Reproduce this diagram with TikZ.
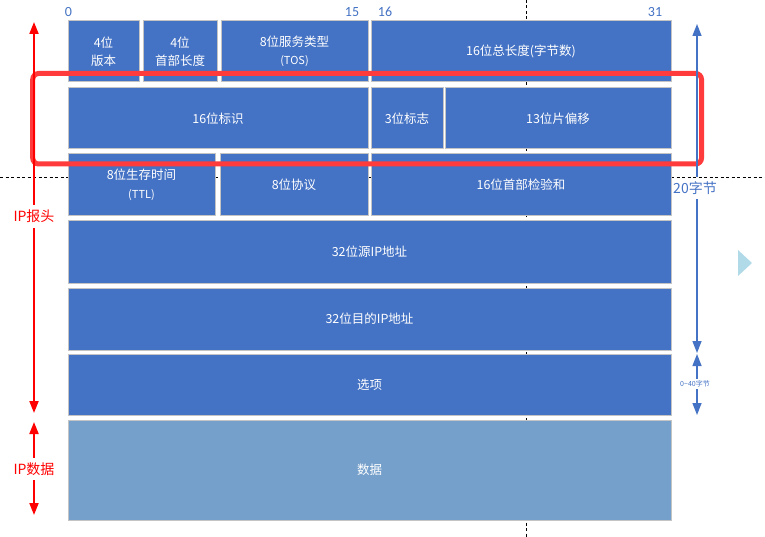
\documentclass[tikz,border=0pt]{standalone}
\usepackage{fontspec}
\newfontfamily\cjk{Noto Sans CJK SC}
\newfontfamily\numfont{Carlito}
\usetikzlibrary{arrows.meta}
\definecolor{boxblue}{HTML}{4472C4}
\definecolor{datablue}{HTML}{75A0CB}
\definecolor{boxedge}{HTML}{C4C4C4}
\definecolor{hlred}{HTML}{FF3B3B}
\definecolor{numblue}{HTML}{4472C4}
\definecolor{navblue}{HTML}{B0DAE8}
\tikzset{
  field/.style={draw=boxedge, line width=1pt, fill=boxblue, text=white, align=center,
    inner sep=0pt, font=\cjk\fontsize{12.5}{18.5}\selectfont},
  datafield/.style={field, fill=datablue},
  bitnum/.style={text=numblue, font=\numfont\fontsize{14}{14}\selectfont, inner sep=0pt},
  redlbl/.style={text=red, font=\cjk\fontsize{14}{14}\selectfont, inner sep=0pt},
  bluelbl/.style={text=numblue, font=\cjk\fontsize{14}{14}\selectfont, inner sep=0pt},
  tinylbl/.style={text=numblue, font=\cjk\fontsize{7}{7}\selectfont, inner sep=0pt},
  redarrow/.style={draw=red, line width=2pt, -{Triangle[length=12pt,width=9pt]}},
  bluearrow/.style={draw=numblue, line width=1.4pt, -{Triangle[length=12pt,width=9pt]}},
  guide/.style={draw=black, line width=0.8pt, dash pattern=on 3pt off 2.5pt},
  highlight/.style={draw=hlred, line width=5pt, rounded corners=6pt, inner sep=0pt},
}
\newcommand\fld[7][field]{%
  \node[#1, minimum width={#5-#3}, minimum height={#6-#4}] (#2) at ({(#3+#5)/2},{(#4+#6)/2}) {#7};}
\begin{document}
\begin{tikzpicture}[x=1pt,y=-1pt]
\useasboundingbox (0,0) rectangle (765,537);
% guide lines
\coordinate (vtop) at (526,0);
\coordinate (vbot) at (526,537);
\coordinate (hleft) at (0,177);
\coordinate (hright) at (765,177);
\draw[guide] (vtop) -- (vbot);
\draw[guide] (hleft) -- (hright);
% bit numbers
\node[bitnum] (b0) at (68.5,12) {0};
\node[bitnum] (b15) at (352,12) {15};
\node[bitnum] (b16) at (385,12) {16};
\node[bitnum] (b31) at (655,12) {31};
% row 1
\fld{ver}{68}{21}{139}{82}{4位\\版本}
\fld{hlen}{143}{21}{217}{82}{4位\\首部长度}
\fld{tos}{221}{21}{368}{82}{8位服务类型\\{\fontsize{11}{14}\selectfont (TOS)}}
\fld{tlen}{371}{21}{671}{82}{16位总长度(字节数)}
% row 2
\fld{ident}{68}{88}{368}{149}{16位标识}
\fld{flags}{371}{88}{443}{149}{3位标志}
\fld{frag}{445}{88}{671}{149}{13位片偏移}
% row 3
\fld{ttl}{68}{154}{215}{216}{8位生存时间\\{\fontsize{11}{14}\selectfont (TTL)}}
\fld{proto}{220}{154}{368}{216}{8位协议}
\fld{csum}{371}{154}{671}{216}{16位首部检验和}
% rows 4-7
\fld{src}{68}{221}{671}{283}{32位源IP地址}
\fld{dst}{68}{288}{671}{350}{32位目的IP地址}
\fld{opt}{68}{354}{671}{415}{选项}
\fld[datafield]{data}{68}{420}{671}{520}{数据}
% highlight
\node[highlight, minimum width=668.8, minimum height=90.5] (hl) at (367.1,118.75) {};
% left red arrows
\coordinate (hdrtop) at (34,22);
\coordinate (hdrbot) at (34,413);
\node[redlbl, minimum height=23] (hdrlbl) at (34,216.5) {IP报头};
\draw[redarrow] (hdrlbl.north -| hdrtop) -- (hdrtop);
\draw[redarrow] (hdrlbl.south -| hdrbot) -- (hdrbot);
\coordinate (dattop) at (34,422);
\coordinate (datbot) at (34,515);
\node[redlbl, minimum height=22] (datlbl) at (34,469) {IP数据};
\draw[redarrow] (datlbl.north -| dattop) -- (dattop);
\draw[redarrow] (datlbl.south -| datbot) -- (datbot);
% right blue arrows
\coordinate (t20top) at (697,24);
\coordinate (t20bot) at (697,353);
\node[bluelbl, minimum height=22] (t20lbl) at (695,188) {20字节};
\draw[bluearrow] (t20lbl.north -| t20top) -- (t20top);
\draw[bluearrow] (t20lbl.south -| t20bot) -- (t20bot);
\coordinate (t40top) at (697,354);
\coordinate (t40bot) at (697,415);
\node[tinylbl, minimum height=10] (t40lbl) at (695,384) {0\textasciitilde40字节};
\draw[bluearrow] (t40lbl.north -| t40top) -- (t40top);
\draw[bluearrow] (t40lbl.south -| t40bot) -- (t40bot);
% small navigation triangle
\fill[navblue] (738,250) -- (752,263) -- (738,276) -- cycle;
\end{tikzpicture}
\end{document}
